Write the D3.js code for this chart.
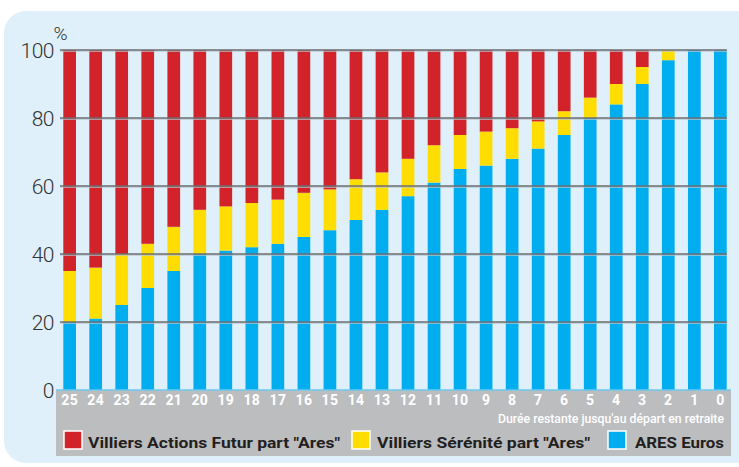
<!DOCTYPE html>
<html>
<head>
<meta charset="utf-8">
<script src="https://cdn.jsdelivr.net/npm/d3@7"></script>
<style>
html,body{margin:0;padding:0;background:#ffffff;}
svg{display:block;}
</style>
</head>
<body>
<svg id="chart" width="739" height="467"></svg>
<script>
const categories = ["25","24","23","22","21","20","19","18","17","16","15","14","13","12","11","10","9","8","7","6","5","4","3","2","1","0"];
const aresEuros   = [20,21,25,30,35,40,41,42,43,45,47,50,53,57,61,65,66,68,71,75,80,84,90,97,100,100];
const serenite    = [15,15,15,13,13,13,13,13,13,13,12,12,11,11,11,10,10, 9, 8, 7, 6, 6, 5, 3,  0,  0];
const actionsFutur = categories.map((c,i)=>100 - aresEuros[i] - serenite[i]);
const yTicks = [0,20,40,60,80,100];
const seriesNames = ["Villiers Actions Futur part \"Ares\"","Villiers Sérénité part \"Ares\"","ARES Euros"];
const colors = {red:"#d2232a", yellow:"#ffdd00", blue:"#00aeef"};
const xAxisTitle = "Durée restante jusqu'au départ en retraite";

const svg = d3.select("#chart");

// panel background
svg.append("rect").attr("x",4).attr("y",11).attr("width",760).attr("height",452)
  .attr("rx",22).attr("ry",22).attr("fill","#dff0fa");

const x = d3.scaleBand().domain(categories).range([63.3,726.7]).paddingInner(0.512).paddingOuter(0);
const y = d3.scaleLinear().domain([0,100]).range([390,50]);

// gray x-axis/legend panel
svg.append("rect").attr("x",56).attr("y",390).attr("width",675).attr("height",66).attr("fill","#bcbdbf");

// stacked data
const rows = categories.map((c,i)=>({cat:c, blue:aresEuros[i], yellow:serenite[i], red:actionsFutur[i]}));
const stack = d3.stack().keys(["blue","yellow","red"]);
const layers = stack(rows);

svg.append("g").selectAll("g").data(layers).join("g")
  .attr("fill", d=>colors[d.key])
  .selectAll("rect").data(d=>d).join("rect")
  .attr("x", d=>x(d.data.cat))
  .attr("width", x.bandwidth())
  .attr("y", d=>y(d[1]))
  .attr("height", d=>Math.max(0, y(d[0])-y(d[1])));

// gridlines
const grid = svg.append("g");
yTicks.filter(t=>t>0).forEach(t=>{
  grid.append("line").attr("x1",60).attr("x2",727).attr("y1",y(t)+1.2).attr("y2",y(t)+1.2)
    .attr("stroke","#b8c6d0").attr("stroke-width",1);
  grid.append("line").attr("x1",60).attr("x2",727).attr("y1",y(t)).attr("y2",y(t))
    .attr("stroke","#6d6e70").attr("stroke-width",1.5);
});
// axis baseline light blue
svg.append("line").attr("x1",56).attr("x2",731).attr("y1",390).attr("y2",390)
  .attr("stroke","#6cc8ee").attr("stroke-width",1.5);

// y axis labels
const yAxis = d3.axisLeft(y).tickValues(yTicks).tickSize(0).tickPadding(0);
const yg = svg.append("g").attr("transform","translate(54,0)").call(yAxis);
yg.select(".domain").remove();
yg.selectAll("text").attr("fill","#333333").attr("font-family","Roboto, 'Open Sans', sans-serif")
  .attr("font-weight",300).attr("font-size",21).attr("dy","0.34em").attr("letter-spacing","-0.5");
svg.append("text").attr("x",53.5).attr("y",40).text("%").attr("fill","#333333")
  .attr("font-family","Roboto, sans-serif").attr("font-weight",300).attr("font-size",19);

// x axis labels
const xAxis = d3.axisBottom(x).tickSize(0).tickPadding(0);
const xg = svg.append("g").attr("transform","translate(0,395)").call(xAxis);
xg.select(".domain").remove();
xg.selectAll("text").attr("fill","#ffffff").attr("font-family","Roboto, sans-serif")
  .attr("font-weight",700).attr("font-size",14).attr("dy","0.71em").attr("letter-spacing","0.3");

svg.append("text").attr("x",724).attr("y",423).attr("text-anchor","end")
  .attr("fill","#ffffff").attr("font-family","Roboto, sans-serif").attr("font-weight",500)
  .attr("font-size",13).attr("textLength",226).attr("lengthAdjust","spacingAndGlyphs")
  .text(xAxisTitle);

// legend
const legend = [
  {name:seriesNames[0], color:colors.red, sx:64, tx:88, tl:252},
  {name:seriesNames[1], color:colors.yellow, sx:352, tx:377, tl:213},
  {name:seriesNames[2], color:colors.blue, sx:608, tx:635, tl:89}
];
const lg = svg.append("g");
legend.forEach(l=>{
  lg.append("rect").attr("x",l.sx).attr("y",431).attr("width",18).attr("height",18)
    .attr("fill",l.color).attr("stroke","#ffffff").attr("stroke-width",1.5);
  lg.append("text").attr("x",l.tx).attr("y",448).attr("fill","#231f20")
    .attr("font-family","Roboto, sans-serif").attr("font-weight",700).attr("font-size",15)
    .attr("textLength",l.tl).attr("lengthAdjust","spacingAndGlyphs").text(l.name);
});
</script>
</body>
</html>
